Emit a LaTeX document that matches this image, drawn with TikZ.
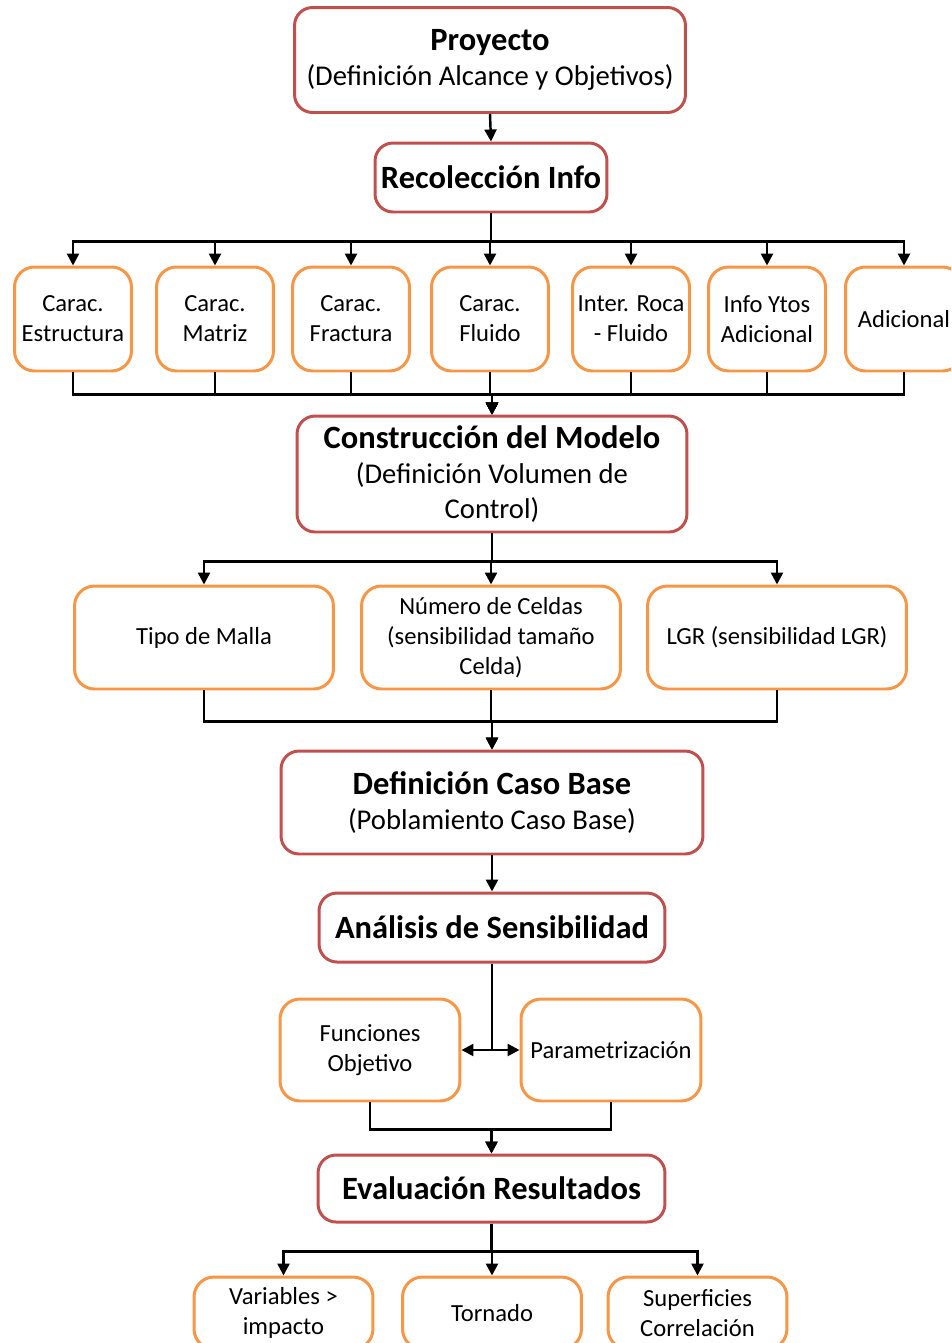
\documentclass[tikz,border=0pt]{standalone}
\usepackage{fontspec}
\setmainfont{Carlito}
\usetikzlibrary{arrows, shapes, positioning, arrows.meta, calc}
\definecolor{boxred}{HTML}{C0504D}
\definecolor{boxorange}{HTML}{F79646}
\newcommand{\fanD}[3]
{
	\draw[flow] (#2.south) -- +(0,#1) -| (#3.north)
}
\newcommand{\titleT}[1]{{\fontsize{18.5}{22}\selectfont\bfseries #1}}

\begin{document}
\begin{tikzpicture}[x=0.02cm, y=-0.02cm,
			stage/.style={shape=rectangle,
				draw=boxred,
				line width=1.7pt,
				rounded corners=0.36cm,
				fill=white,
				align=center,
				inner sep=0,
				font=\fontsize{16.3}{19.9}\selectfont},
			item/.style={shape=rectangle,
				draw=boxorange,
				line width=1.7pt,
				rounded corners=0.4cm,
				fill=white,
				align=center,
				inner sep=0,
				font=\fontsize{14}{17.1}\selectfont},
			flow/.style={line width=1.4pt, -{Triangle[length=0.24cm,width=0.24cm]}}]
			
			\clip (0,0) rectangle (951,1343);
			
			\node[stage, minimum width=7.82cm, minimum height=2.1cm] at (490, 60) (proy){\titleT{Proyecto}\\(Definición Alcance y Objetivos)};
			\node[stage, minimum width=4.64cm, minimum height=1.38cm] at (491, 177.5) (reco){\titleT{Recolección Info}};
			
			\node[item, minimum width=2.34cm, minimum height=2.08cm] at (73, 319) (estr){Carac.\\Estructura};
			\node[item, minimum width=2.34cm, minimum height=2.08cm] at (215, 319) (matr){Carac.\\Matriz};
			\node[item, minimum width=2.34cm, minimum height=2.08cm] at (351, 319) (frac){Carac.\\Fractura};
			\node[item, minimum width=2.34cm, minimum height=2.08cm] at (490, 319) (flui){Carac.\\Fluido};
			\node[item, minimum width=2.34cm, minimum height=2.08cm] at (631, 319) (roca){Inter. Roca\\- Fluido};
			\node[item, minimum width=2.34cm, minimum height=2.08cm] at (767, 319) (ytos){Info Ytos\\Adicional};
			\node[item, minimum width=2.34cm, minimum height=2.08cm] at (904, 319) (adic){Adicional};
			
			\node[stage, minimum width=7.8cm, minimum height=2.32cm] at (492, 474) (cons){\titleT{Construcción del Modelo}\\(Definición Volumen de\\Control)};
			
			\node[item, minimum width=5.18cm, minimum height=2.06cm] at (204, 637.5) (mall){Tipo de Malla};
			\node[item, minimum width=5.18cm, minimum height=2.06cm] at (491, 637.5) (celd){Número de Celdas\\(sensibilidad tamaño\\Celda)};
			\node[item, minimum width=5.18cm, minimum height=2.06cm] at (777, 637.5) (lgr){LGR (sensibilidad LGR)};
			
			\node[stage, minimum width=8.44cm, minimum height=2.06cm] at (492, 802.5) (base){\titleT{Definición Caso Base}\\(Poblamiento Caso Base)};
			\node[stage, minimum width=6.92cm, minimum height=1.38cm] at (492, 927.5) (sens){\titleT{Análisis de Sensibilidad}};
			
			\node[item, minimum width=3.6cm, minimum height=2.04cm] at (370, 1050) (func){Funciones\\Objetivo};
			\node[item, minimum width=3.6cm, minimum height=2.04cm] at (611, 1050) (para){Parametrización};
			
			\node[stage, minimum width=6.94cm, minimum height=1.34cm] at (491.5, 1188.5) (eval){\titleT{Evaluación Resultados}};
			
			\node[item, minimum width=3.58cm, minimum height=1.44cm] at (283.5, 1313) (vari){Variables >\\impacto};
			\node[item, minimum width=3.58cm, minimum height=1.44cm] at (492, 1313) (torn){Tornado};
			\node[item, minimum width=3.58cm, minimum height=1.44cm] at (697.5, 1313) (supe){Superficies\\Correlación};
			
			\draw[flow] (proy.south) -- (reco.north);
			\foreach \n in {estr, matr, frac, flui, roca, ytos, adic}
			{
				\fanD{28}{reco}{\n};
				\fanD{22}{\n}{cons};
			}
			\foreach \n in {mall, celd, lgr}
			{
				\fanD{28}{cons}{\n};
				\fanD{31}{\n}{base};
			}
			\draw[flow] (base.south) -- (sens.north);
			\draw[flow] (sens.south) |- (func.east);
			\draw[flow] (sens.south) |- (para.west);
			\fanD{27}{func}{eval};
			\fanD{27}{para}{eval};
			\foreach \n in {vari, torn, supe}
				\fanD{28}{eval}{\n};
		\end{tikzpicture}
\end{document}
